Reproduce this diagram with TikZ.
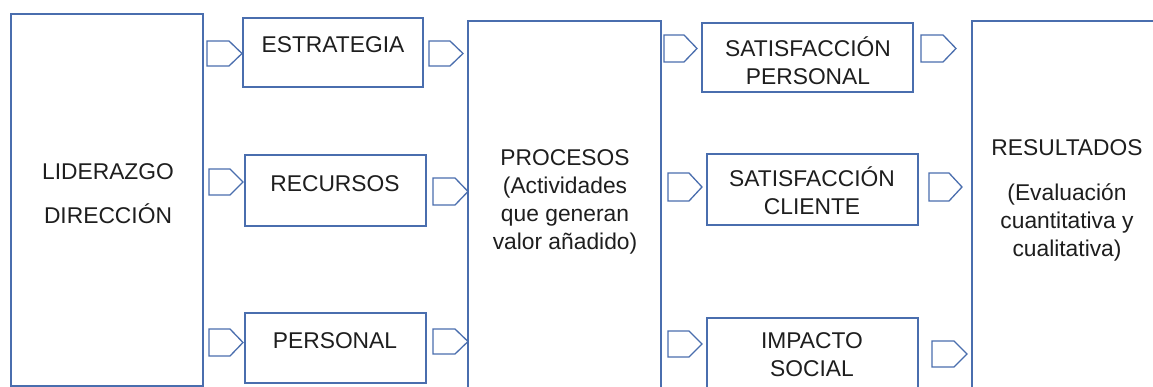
\documentclass[tikz,border=0pt]{standalone}
\usepackage{fontspec}
\setmainfont{Liberation Sans}
\definecolor{edgeblue}{HTML}{4A6EAE}
\definecolor{ink}{HTML}{1E1E1E}
\tikzset{
  box/.style={draw=edgeblue, line width=1.3pt, fill=none, inner sep=0pt},
  txt/.style={text=ink, font=\fontsize{22.8}{28}\selectfont, align=center, inner sep=0pt},
  tab/.style={draw=edgeblue, line width=1.3pt, line join=miter},
}
\newcommand{\boxat}[5]{% name, x1, y1, x2, y2
  \node[box, minimum width={#4-#2}, minimum height={#5-#3}] (#1) at ({(#2+#4)/2},{(#3+#5)/2}) {};}
% pentagon tab: left x, tip x, top y, bottom y
\newcommand{\tabat}[4]{%
  \draw[tab] (#1,#3) -- ({#2-13},#3) -- (#2,{(#3+#4)/2}) -- ({#2-13},#4) -- (#1,#4) -- cycle;}
\begin{document}
\begin{tikzpicture}[x=1pt, y=-1pt]
  \clip (0,0) rectangle (1153,387);
  \fill[white] (0,0) rectangle (1153,387);

  % main boxes
  \boxat{lid}{11}{14}{203}{386}
  \boxat{est}{243}{18}{423}{87}
  \boxat{rec}{245}{155}{426}{226}
  \boxat{per}{245}{313}{426}{383}
  \boxat{proc}{468}{21}{661}{400}
  \boxat{sp}{702}{23}{913}{92}
  \boxat{sc}{707}{154}{918}{225}
  \boxat{is}{707}{318}{918}{400}
  \boxat{res}{972}{21}{1170}{400}

  % tabs between the columns
  \tabat{207}{242}{41}{66}
  \tabat{209}{243}{169}{195}
  \tabat{209}{243}{329}{356}
  \tabat{429}{463}{41}{66}
  \tabat{433}{468}{178}{205}
  \tabat{433}{468}{329}{354}
  \tabat{664}{697}{35}{62}
  \tabat{668}{702}{173}{201}
  \tabat{668}{702}{331}{357}
  \tabat{921}{956}{35}{62}
  \tabat{929}{962}{173}{201}
  \tabat{932}{967}{341}{367}

  % labels
  \node[txt] (lidT) at (108,194) {LIDERAZGO\\[16pt]DIRECCIÓN};
  \node[txt] (estT) at (333,45) {ESTRATEGIA};
  \node[txt] (recT) at (335,184) {RECURSOS};
  \node[txt] (perT) at (335,341) {PERSONAL};
  \node[txt] (procT) at (565,202) {PROCESOS\\(Actividades\\que generan\\valor añadido)};
  \node[txt] (spT) at (808,61) {SATISFACCIÓN\\PERSONAL};
  \node[txt] (scT) at (812,191) {SATISFACCIÓN\\CLIENTE};
  \node[txt] (isT) at (812,355) {IMPACTO\\SOCIAL};
  \node[txt] (resT) at (1067,200) {RESULTADOS\\[17pt](Evaluación\\cuantitativa y\\cualitativa)};
\end{tikzpicture}
\end{document}
